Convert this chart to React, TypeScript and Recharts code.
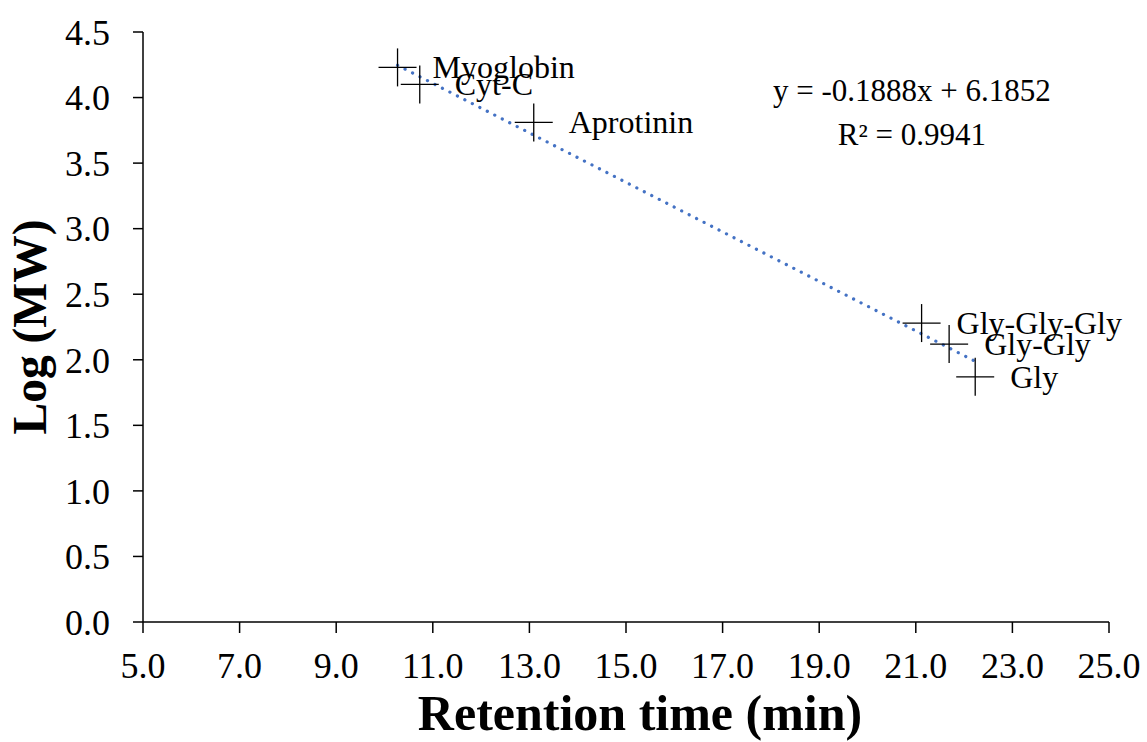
import React from 'react';
import { ScatterChart, Scatter, XAxis, YAxis, ReferenceLine, ReferenceDot, Label } from 'recharts';

const sampleNames = ['Myoglobin', 'Cyt-C', 'Aprotinin', 'Gly-Gly-Gly', 'Gly-Gly', 'Gly'];
const retentionTimes = [10.27, 10.73, 13.09, 21.12, 21.69, 22.23];
const logMW = [4.23, 4.10, 3.81, 2.28, 2.12, 1.87];
const xTicks = [5, 7, 9, 11, 13, 15, 17, 19, 21, 23, 25];
const yTicks = [0, 0.5, 1, 1.5, 2, 2.5, 3, 3.5, 4, 4.5];
const slope = -0.1888;
const intercept = 6.1852;
const rSquared = 0.9941;
const equationAnchor = { x: 20.92, y: 4.0 };

const data = sampleNames.map((name, i) => ({ name, x: retentionTimes[i], y: logMW[i] }));
const xMin = Math.min(...retentionTimes);
const xMax = Math.max(...retentionTimes);

const FONT = '"Liberation Serif", "Times New Roman", serif';

const PlusShape = (props: any) => {
  const { cx, cy, payload } = props;
  const h = 19;
  return (
    <g>
      <line x1={cx - h} y1={cy} x2={cx + h} y2={cy} stroke="#000" strokeWidth={1.3} />
      <line x1={cx} y1={cy - h} x2={cx} y2={cy + h} stroke="#000" strokeWidth={1.3} />
      <text x={cx + 35} y={cy + 11} fontFamily={FONT} fontSize={32} fill="#000">
        {payload.name}
      </text>
    </g>
  );
};

export default function App() {
  return (
    <div style={{ position: 'absolute', left: 0, top: 0, background: '#fff' }}>
      <ScatterChart width={1147} height={742} margin={{ top: 32, right: 38, bottom: 0, left: 0 }}>
        <XAxis
          type="number"
          dataKey="x"
          domain={[5, 25]}
          ticks={xTicks}
          tickFormatter={(v: number) => v.toFixed(1)}
          height={120}
          tickSize={11}
          tickMargin={19}
          axisLine={{ stroke: '#000', strokeWidth: 1.5 }}
          tickLine={{ stroke: '#000', strokeWidth: 1.5 }}
          tick={{ fill: '#000', fontSize: 36, fontFamily: FONT }}
          interval={0}
        >
          <Label
            content={(p: any) => {
              const vb = p.viewBox;
              return (
                <text
                  x={vb.x + vb.width / 2 + 14}
                  y={vb.y + 108}
                  textAnchor="middle"
                  fontFamily={FONT}
                  fontWeight="bold"
                  fontSize={50}
                  fill="#000"
                >
                  Retention time (min)
                </text>
              );
            }}
          />
        </XAxis>
        <YAxis
          type="number"
          dataKey="y"
          domain={[0, 4.5]}
          ticks={yTicks}
          tickFormatter={(v: number) => v.toFixed(1)}
          width={143}
          tickSize={10}
          tickMargin={23}
          axisLine={{ stroke: '#000', strokeWidth: 1.5 }}
          tickLine={{ stroke: '#000', strokeWidth: 1.5 }}
          tick={{ fill: '#000', fontSize: 36, fontFamily: FONT }}
          interval={0}
        >
          <Label
            content={(p: any) => {
              const vb = p.viewBox;
              const cy = vb.y + vb.height / 2;
              return (
                <text
                  x={0}
                  y={0}
                  transform={`translate(46, ${cy}) rotate(-90)`}
                  textAnchor="middle"
                  fontFamily={FONT}
                  fontWeight="bold"
                  fontSize={47.5}
                  fill="#000"
                >
                  Log (MW)
                </text>
              );
            }}
          />
        </YAxis>
        <ReferenceLine
          segment={[
            { x: xMin, y: slope * xMin + intercept },
            { x: xMax, y: slope * xMax + intercept },
          ]}
          stroke="#4472C4"
          strokeWidth={3.2}
          strokeLinecap="round"
          strokeDasharray="0.1 8.3"
          ifOverflow="visible"
        />
        <Scatter data={data} shape={PlusShape} isAnimationActive={false} />
        <ReferenceDot
          x={equationAnchor.x}
          y={equationAnchor.y}
          r={1}
          fill="none"
          stroke="none"
          ifOverflow="visible"
          label={(p: any) => {
            const vb = p.viewBox;
            const cx = vb.x + vb.width / 2;
            const cy = vb.y + vb.height / 2;
            return (
              <g>
                <text x={cx} y={cy + 3} textAnchor="middle" fontFamily={FONT} fontSize={31} fill="#000">
                  {`y = ${slope.toFixed(4)}x + ${intercept.toFixed(4)}`}
                </text>
                <text x={cx} y={cy + 47} textAnchor="middle" fontFamily={FONT} fontSize={31} fill="#000">
                  {`R² = ${rSquared.toFixed(4)}`}
                </text>
              </g>
            );
          }}
        />
      </ScatterChart>
    </div>
  );
}
